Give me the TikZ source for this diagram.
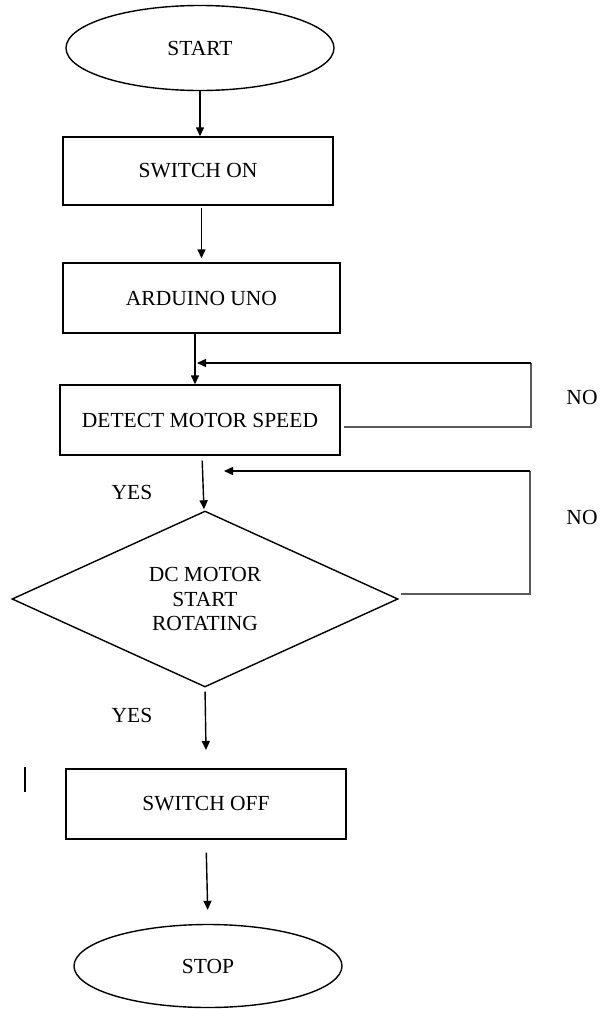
\documentclass[tikz,border=0pt]{standalone}
\usepackage{fontspec}
\setmainfont{Liberation Serif}
\usetikzlibrary{shapes.geometric,arrows.meta,calc}
\begin{document}
\begin{tikzpicture}[x=1pt,y=1pt,
  every node/.style={font=\fontsize{21.5}{24.5}\selectfont},
  term/.style={draw,line width=1.4pt,ellipse,minimum width=268pt,minimum height=85pt,inner sep=0pt},
  procbox/.style={draw,line width=1.4pt,rectangle,minimum height=70pt,inner sep=0pt},
  decide/.style={draw,line width=1.4pt,diamond,minimum width=386pt,minimum height=176pt,inner sep=0pt,align=center},
  arr/.style={line width=1.4pt,-{Triangle[length=9pt,width=8pt]}},
  loopline/.style={line width=1.8pt,black!65},
  lbl/.style={inner sep=0pt}
]
\useasboundingbox (0,0) rectangle (600,-1009);

\node[term] (start) at (200,-48) {START};
\node[procbox,minimum width=270pt,minimum height=68pt] (son) at (198,-171) {SWITCH ON};
\node[procbox,minimum width=277pt] (ard) at (201.5,-298) {ARDUINO UNO};
\node[procbox,minimum width=280pt] (det) at (200,-420) {DETECT MOTOR SPEED};
\node[decide] (dia) at (205,-599) {DC MOTOR\\START\\ROTATING};
\node[procbox,minimum width=280pt] (soff) at (206,-804) {SWITCH OFF};
\node[term,minimum height=83pt] (stop) at (208,-966) {STOP};

\node[lbl] (no1) at (582,-397) {NO};
\node[lbl] (no2) at (582,-517) {NO};
\node[lbl] (yes1) at (132,-492) {YES};
\node[lbl] (yes2) at (132,-715) {YES};

\coordinate (n1corner) at (531,-363);
\coordinate (n1end) at (197,-363);
\coordinate (n2corner) at (530,-471);
\coordinate (n2end) at (224,-471);
\coordinate (yesend) at (206,-750);
\coordinate (bartop) at (25,-767);
\coordinate (barbot) at (25,-792);

% main flow
\draw[arr] (start.south) -- (start.south |- son.north);
\draw[arr,shorten <=2pt,shorten >=4pt] (son.south -| ard.north) -- (ard.north);
\draw[arr] ([xshift=-6.5pt]ard.south) -- ([xshift=-6.5pt]ard.south |- det.north);
\draw[arr,shorten <=5pt,shorten >=1pt] ([xshift=2pt]det.south) -- ([xshift=-1pt]dia.north);
\draw[arr,shorten <=4pt] (dia.south) -- (yesend);
\draw[arr,shorten <=13pt,shorten >=14pt] (soff.south) -- (stop.north);

% NO loops
\draw[loopline] ([xshift=3pt,yshift=-7pt]det.east) -| (n1corner);
\draw[arr] (n1corner) -- (n1end);
\draw[loopline] ([xshift=2pt,yshift=5pt]dia.east) -| (n2corner);
\draw[arr] (n2corner) -- (n2end);

% stray mark
\draw[line width=1.3pt] (bartop) -- (barbot);
\end{tikzpicture}
\end{document}
